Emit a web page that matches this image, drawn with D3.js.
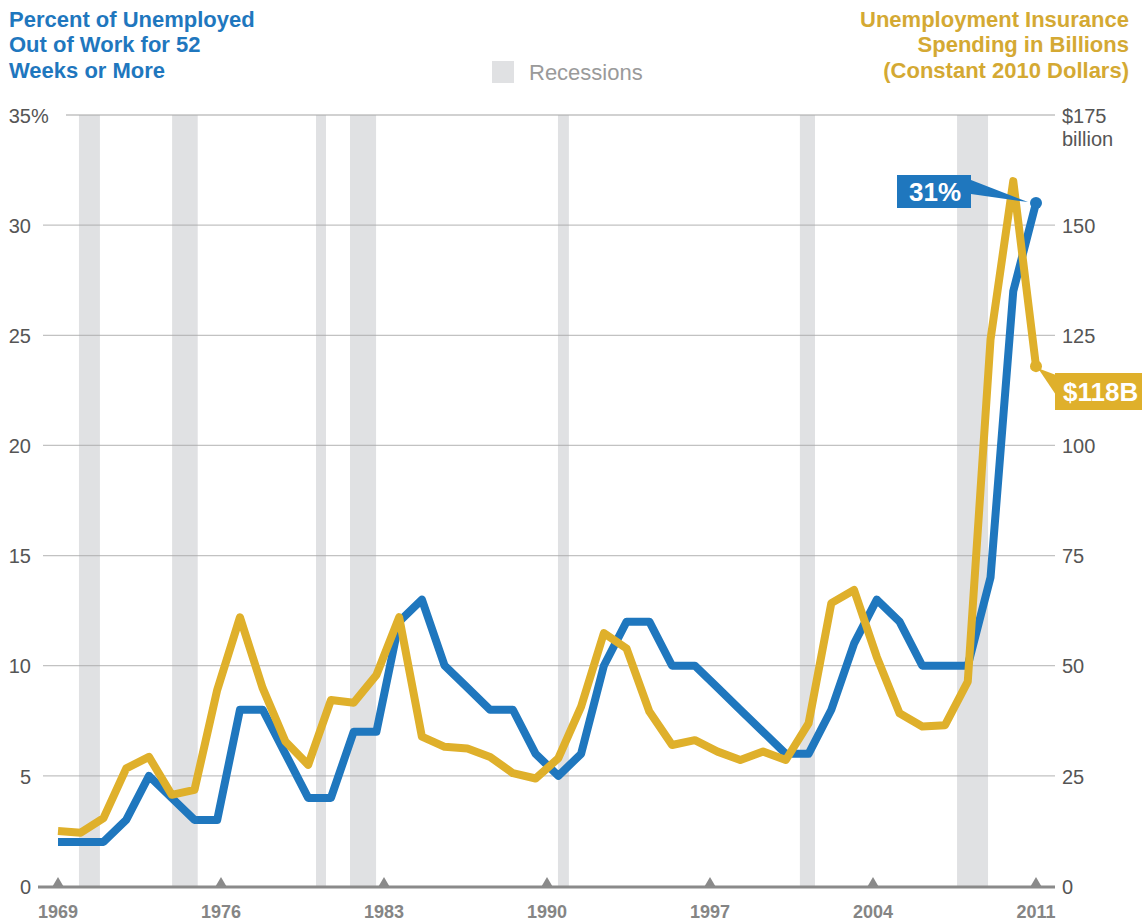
<!DOCTYPE html>
<html>
<head>
<meta charset="utf-8">
<script src="https://cdn.jsdelivr.net/npm/d3@7"></script>
<style>
  body { margin: 0; background: #fff; }
  svg { display: block; font-family: "Liberation Sans", Arial, Helvetica, sans-serif; }
</style>
</head>
<body>
<script>
// long-term unemployed share (%) - one point per period, 44 points
var longTermPct = [2, 2, 2, 3, 5, 4, 3, 3, 8, 8, 6, 4, 4, 7, 7, 12, 13, 10, 9, 8,
  8, 6, 5, 6, 10, 12, 12, 10, 10, 9, 8, 7, 6, 6, 8, 11, 13, 12, 10, 10,
  10, 14, 27, 31];

// UI spending, billions of 2010 dollars
var uiSpending = [12.5, 12.1, 15.4, 26.7, 29.3, 20.7, 21.8, 44.5, 61, 44.9,
  32.8, 27.5, 42.2, 41.6, 47.9, 61, 33.9, 31.6, 31.2, 29.3,
  25.6, 24.4, 29, 40.7, 57.4, 53.9, 39.6, 32, 33.1, 30.5,
  28.6, 30.5, 28.6, 36.9, 64.2, 67.2, 52, 39.2, 36.2, 36.5,
  46.4, 124, 160, 118];

var yearTicks = [1969, 1976, 1983, 1990, 1997, 2004, 2011];
var pctTicks = [0, 5, 10, 15, 20, 25, 30, 35];
var dollarTicks = [0, 25, 50, 75, 100, 125, 150, 175];

// recession spans (fractional years)
var recessions = [
  [1969.9, 1970.8], [1973.9, 1975.0], [1980.08, 1980.51], [1981.54, 1982.66],
  [1990.47, 1990.94], [2000.86, 2001.51], [2007.61, 2008.94]
];

var leftTitle = ["Percent of Unemployed", "Out of Work for 52", "Weeks or More"];
var rightTitle = ["Unemployment Insurance", "Spending in Billions", "(Constant 2010 Dollars)"];

var W = 1142, H = 921;
var blue = "#1f77be", gold = "#dfb02b";
var goldText = "#d4a933";

var svg = d3.select("body").append("svg")
  .attr("width", W)
  .attr("height", H);

var xLeft = 58, xRight = 1036;
var xYear = d3.scaleLinear().domain([1969, 2011]).range([xLeft, xRight]);
var xIdx = d3.scaleLinear().domain([0, longTermPct.length - 1]).range([xLeft, xRight]);
var yPct = d3.scaleLinear().domain([0, 35]).range([886, 115]);
var yBil = d3.scaleLinear().domain([0, 175]).range([886, 115]);

// recession bands
svg.append("g").selectAll("rect")
  .data(recessions)
  .enter()
  .append("rect")
  .attr("x", function(d) { return xYear(d[0]); })
  .attr("width", function(d) { return xYear(d[1]) - xYear(d[0]); })
  .attr("y", yPct(35))
  .attr("height", yPct(0) - yPct(35))
  .attr("fill", "#e0e1e3");

// gridlines
svg.append("g").selectAll("line")
  .data(pctTicks.filter(function(d) { return d > 0; }))
  .enter()
  .append("line")
  .attr("x1", function(d) { return d === 35 ? 66 : 43; })
  .attr("x2", 1055)
  .attr("y1", function(d) { return yPct(d); })
  .attr("y2", function(d) { return yPct(d); })
  .attr("stroke", "#a8a8a8")
  .attr("stroke-opacity", 0.7)
  .attr("stroke-width", 1.3);

// left axis labels
var leftAxis = d3.axisLeft(yPct).tickValues(pctTicks).tickSize(0).tickPadding(0);
var gl = svg.append("g").attr("transform", "translate(31,0)").call(leftAxis);
gl.select(".domain").remove();
gl.selectAll("text")
  .attr("font-size", 20)
  .attr("fill", "#555")
  .attr("font-family", null)
  .attr("dy", "0.36em");
gl.selectAll(".tick").filter(function(d) { return d === 35; })
  .append("text")
  .attr("x", 0)
  .attr("dy", "0.36em")
  .attr("text-anchor", "start")
  .attr("font-size", 20)
  .attr("fill", "#555")
  .text("%");

// right axis labels
var rightAxis = d3.axisRight(yBil).tickValues(dollarTicks).tickSize(0).tickPadding(0)
  .tickFormat(function(d) { return d === 175 ? "$175" : d; });
var gr = svg.append("g").attr("transform", "translate(1062,0)").call(rightAxis);
gr.select(".domain").remove();
gr.selectAll("text")
  .attr("font-size", 20)
  .attr("fill", "#555")
  .attr("font-family", null)
  .attr("dy", "0.36em");
gr.selectAll(".tick").filter(function(d) { return d === 175; })
  .append("text")
  .attr("x", 0)
  .attr("dy", "1.5em")
  .attr("font-size", 20)
  .attr("fill", "#555")
  .text("billion");

// base axis line + triangle markers
svg.append("line")
  .attr("x1", 38).attr("x2", 1055)
  .attr("y1", 887).attr("y2", 887)
  .attr("stroke", "#8a8a8a")
  .attr("stroke-width", 3);

svg.append("g").selectAll("path")
  .data(yearTicks)
  .enter()
  .append("path")
  .attr("d", d3.symbol(d3.symbolTriangle, 48))
  .attr("transform", function(d) { return "translate(" + xYear(d) + ",883)"; })
  .attr("fill", "#8a8a8a");

svg.append("g").selectAll("text")
  .data(yearTicks)
  .enter()
  .append("text")
  .attr("x", function(d) { return xYear(d); })
  .attr("y", 918)
  .attr("text-anchor", "middle")
  .attr("font-size", 18)
  .attr("font-weight", "bold")
  .attr("fill", "#858585")
  .text(function(d) { return d; });

// lines
var bluePath = d3.line()
  .x(function(d, i) { return xIdx(i); })
  .y(function(d) { return yPct(d); });
var goldPath = d3.line()
  .x(function(d, i) { return xIdx(i); })
  .y(function(d) { return yBil(d); });

svg.append("path")
  .datum(longTermPct)
  .attr("d", bluePath)
  .attr("fill", "none")
  .attr("stroke", blue)
  .attr("stroke-width", 8)
  .attr("stroke-linejoin", "round");

svg.append("path")
  .datum(uiSpending)
  .attr("d", goldPath)
  .attr("fill", "none")
  .attr("stroke", gold)
  .attr("stroke-width", 8)
  .attr("stroke-linejoin", "round");

// end dots + callouts
var nB = longTermPct.length - 1, nG = uiSpending.length - 1;
var bx = xIdx(nB), by = yPct(longTermPct[nB]);
var gx = xIdx(nG), gy = yBil(uiSpending[nG]);

svg.append("circle").attr("cx", bx).attr("cy", by).attr("r", 6).attr("fill", blue);
svg.append("circle").attr("cx", gx).attr("cy", gy).attr("r", 6).attr("fill", gold);

svg.append("path")
  .attr("d", "M971,180L" + (bx - 8) + "," + (by - 1) + "L971,194Z")
  .attr("fill", blue);
svg.append("rect")
  .attr("x", 897).attr("y", 175).attr("width", 74).attr("height", 33)
  .attr("fill", blue);
svg.append("text")
  .attr("x", 935).attr("y", 201)
  .attr("text-anchor", "middle")
  .attr("font-size", 26).attr("font-weight", "bold")
  .attr("fill", "#fff")
  .text(longTermPct[nB] + "%");

svg.append("path")
  .attr("d", "M" + (gx + 2) + "," + (gy + 2) + "L1056,375L1056,395Z")
  .attr("fill", gold);
svg.append("rect")
  .attr("x", 1055).attr("y", 373).attr("width", 100).attr("height", 37)
  .attr("fill", gold);
svg.append("text")
  .attr("x", 1063).attr("y", 401)
  .attr("font-size", 26).attr("font-weight", "bold")
  .attr("fill", "#fff")
  .text("$" + uiSpending[nG] + "B");

// titles
svg.append("text")
  .attr("font-size", 22).attr("font-weight", "bold").attr("fill", blue)
  .selectAll("tspan")
  .data(leftTitle)
  .enter()
  .append("tspan")
  .attr("x", 9)
  .attr("y", function(d, i) { return 26.5 + i * 25.5; })
  .text(function(d) { return d; });

svg.append("text")
  .attr("font-size", 22).attr("font-weight", "bold").attr("fill", goldText)
  .attr("text-anchor", "end")
  .selectAll("tspan")
  .data(rightTitle)
  .enter()
  .append("tspan")
  .attr("x", 1129)
  .attr("y", function(d, i) { return 26.5 + i * 25.5; })
  .text(function(d) { return d; });

// legend
svg.append("rect")
  .attr("x", 492).attr("y", 61).attr("width", 22).attr("height", 22)
  .attr("fill", "#e0e1e3");
svg.append("text")
  .attr("x", 529).attr("y", 80)
  .attr("font-size", 22)
  .attr("fill", "#9a9a9a")
  .text("Recessions");
</script>
</body>
</html>
